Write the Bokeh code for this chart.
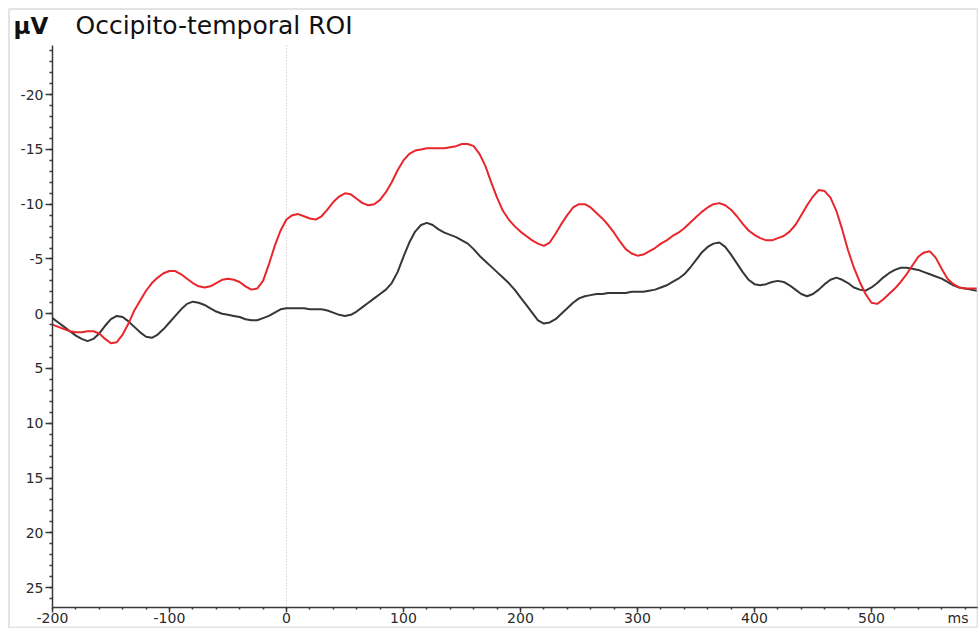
from bokeh.plotting import figure
from bokeh.models import Range1d, FixedTicker, Label, BoxAnnotation
from bokeh.embed import file_html
from bokeh.resources import INLINE

# time axis (ms), 5 ms steps
time_ms = list(range(-200, 595, 5))

# red condition (µV; negative values are plotted upward)
red_uv = [
    1.0, 1.2, 1.4, 1.6, 1.7, 1.7, 1.6, 1.6, 1.8, 2.3,
    2.7, 2.6, 1.9, 0.9, -0.3, -1.2, -2.1, -2.8, -3.3, -3.7,
    -3.9, -3.9, -3.6, -3.2, -2.8, -2.5, -2.4, -2.5, -2.8, -3.1,
    -3.2, -3.1, -2.9, -2.5, -2.2, -2.3, -3.0, -4.5, -6.2, -7.6,
    -8.6, -9.0, -9.1, -8.9, -8.7, -8.6, -8.9, -9.5, -10.2, -10.7,
    -11.0, -10.9, -10.5, -10.1, -9.9, -10.0, -10.4, -11.1, -12.0, -13.1,
    -14.0, -14.6, -14.9, -15.0, -15.1, -15.1, -15.1, -15.1, -15.2, -15.3,
    -15.5, -15.5, -15.3, -14.6, -13.5, -12.0, -10.6, -9.4, -8.6, -8.0,
    -7.5, -7.1, -6.7, -6.4, -6.2, -6.5, -7.3, -8.2, -9.0, -9.7,
    -10.0, -10.0, -9.7, -9.2, -8.7, -8.1, -7.4, -6.6, -5.9, -5.5,
    -5.3, -5.4, -5.7, -6.0, -6.4, -6.7, -7.1, -7.4, -7.8, -8.3,
    -8.8, -9.3, -9.7, -10.0, -10.1, -9.9, -9.5, -8.9, -8.2, -7.6,
    -7.2, -6.9, -6.7, -6.7, -6.9, -7.1, -7.5, -8.1, -9.0, -9.9,
    -10.7, -11.3, -11.2, -10.6, -9.4, -7.7, -5.8, -4.2, -2.9, -1.8,
    -1.0, -0.9, -1.3, -1.8, -2.3, -2.9, -3.6, -4.4, -5.2, -5.6,
    -5.7, -5.1, -4.1, -3.2, -2.7, -2.4, -2.3, -2.3, -2.3,
]

# black condition
black_uv = [
    0.4, 0.8, 1.2, 1.6, 2.0, 2.3, 2.5, 2.3, 1.8, 1.1,
    0.5, 0.2, 0.3, 0.7, 1.2, 1.7, 2.1, 2.2, 1.9, 1.4,
    0.8, 0.2, -0.4, -0.9, -1.1, -1.0, -0.8, -0.5, -0.2, 0.0,
    0.1, 0.2, 0.3, 0.5, 0.6, 0.6, 0.4, 0.2, -0.1, -0.4,
    -0.5, -0.5, -0.5, -0.5, -0.4, -0.4, -0.4, -0.3, -0.1, 0.1,
    0.2, 0.1, -0.2, -0.6, -1.0, -1.4, -1.8, -2.2, -2.8, -3.8,
    -5.2, -6.5, -7.5, -8.1, -8.3, -8.1, -7.7, -7.4, -7.2, -7.0,
    -6.7, -6.4, -5.9, -5.3, -4.8, -4.3, -3.8, -3.3, -2.8, -2.2,
    -1.5, -0.8, -0.1, 0.6, 0.9, 0.8, 0.5, 0.0, -0.5, -1.0,
    -1.4, -1.6, -1.7, -1.8, -1.8, -1.9, -1.9, -1.9, -1.9, -2.0,
    -2.0, -2.0, -2.1, -2.2, -2.4, -2.6, -2.9, -3.2, -3.6, -4.2,
    -4.9, -5.6, -6.1, -6.4, -6.5, -6.1, -5.4, -4.6, -3.8, -3.1,
    -2.7, -2.6, -2.7, -2.9, -3.0, -2.9, -2.6, -2.2, -1.8, -1.6,
    -1.8, -2.2, -2.7, -3.1, -3.3, -3.1, -2.8, -2.4, -2.2, -2.1,
    -2.4, -2.8, -3.3, -3.7, -4.0, -4.2, -4.2, -4.1, -4.0, -3.8,
    -3.6, -3.4, -3.2, -2.9, -2.6, -2.4, -2.3, -2.2, -2.1,
]

y_ticks = [-20, -15, -10, -5, 0, 5, 10, 15, 20, 25]
x_ticks = [-200, -100, 0, 100, 200, 300, 400, 500]
x_minor = list(range(-200, 600, 20))
y_minor = list(range(-24, 27))

# view geometry
W, H = 978, 628
X_START, X_END = -244.4, 591.5
Y_TOP, Y_BOT = -28.6, 28.74
AX_X0, AX_X1 = -200, 591.5      # x axis extent
AX_Y0, AX_Y1 = -24.5, 26.8      # y axis extent


def px_x(px):
    return X_START + px * (X_END - X_START) / W


def px_y(py):
    return Y_TOP + py * (Y_BOT - Y_TOP) / H


FONT = "DejaVu Sans"
TXT = "#2a2a2a"

p = figure(width=W, height=H, title=None,
           x_range=Range1d(X_START, X_END), y_range=Range1d(Y_BOT, Y_TOP),
           output_backend="svg", toolbar_location=None, min_border=0,
           outline_line_color=None,
           background_fill_color="white", border_fill_color="white")
p.grid.visible = False

# outer frame
p.add_layout(BoxAnnotation(left=px_x(8.5), right=px_x(977), top=px_y(8.5), bottom=px_y(627),
                           fill_alpha=0, line_color="#a4a4a4", line_width=2))

# stimulus onset
p.segment(x0=[0], y0=[AX_Y0], x1=[0], y1=[AX_Y1], line_color="#bdbdbd",
          line_dash="1 2", line_width=1)

p.line(time_ms, black_uv, line_color="#363636", line_width=2)
p.line(time_ms, red_uv, line_color="#e8262c", line_width=2)

for ax in (p.xaxis[0], p.yaxis[0]):
    ax.axis_line_color = "#3a3a3a"
    ax.axis_line_width = 1.5
    ax.major_tick_line_color = "#3a3a3a"
    ax.minor_tick_line_color = "#3a3a3a"
    ax.major_tick_line_width = 1.5
    ax.minor_tick_line_width = 1.5
    ax.major_label_text_font = FONT
    ax.major_label_text_font_size = "14px"
    ax.major_label_text_color = TXT

yax = p.yaxis[0]
yax.fixed_location = AX_X0
yax.bounds = (AX_Y0, AX_Y1)
yax.ticker = FixedTicker(ticks=y_ticks, minor_ticks=y_minor)
yax.major_label_overrides = {t: str(t) for t in y_ticks}
yax.major_tick_out = 7
yax.major_tick_in = 0
yax.minor_tick_out = 3
yax.minor_tick_in = 0
yax.major_label_standoff = 2

xax = p.xaxis[0]
xax.fixed_location = AX_Y1
xax.bounds = (AX_X0, AX_X1)
xax.ticker = FixedTicker(ticks=x_ticks, minor_ticks=x_minor)
xax.major_label_overrides = {t: str(t) for t in x_ticks}
xax.major_tick_out = 5
xax.major_tick_in = 0
xax.minor_tick_out = 2
xax.minor_tick_in = 0
xax.major_label_standoff = 1

p.add_layout(Label(x=px_x(947), y=px_y(617), text="ms", text_font=FONT,
                   text_font_size="14px", text_color=TXT, text_baseline="middle"))

p.add_layout(Label(x=px_x(13), y=px_y(25), text="µV", text_font=FONT,
                   text_font_style="bold", text_font_size="23px",
                   text_color="#111111", text_baseline="middle"))
p.add_layout(Label(x=px_x(75), y=px_y(25), text="Occipito-temporal ROI",
                   text_font=FONT, text_font_size="25px",
                   text_color="#111111", text_baseline="middle"))

open("out.html", "w").write(file_html(p, INLINE))
